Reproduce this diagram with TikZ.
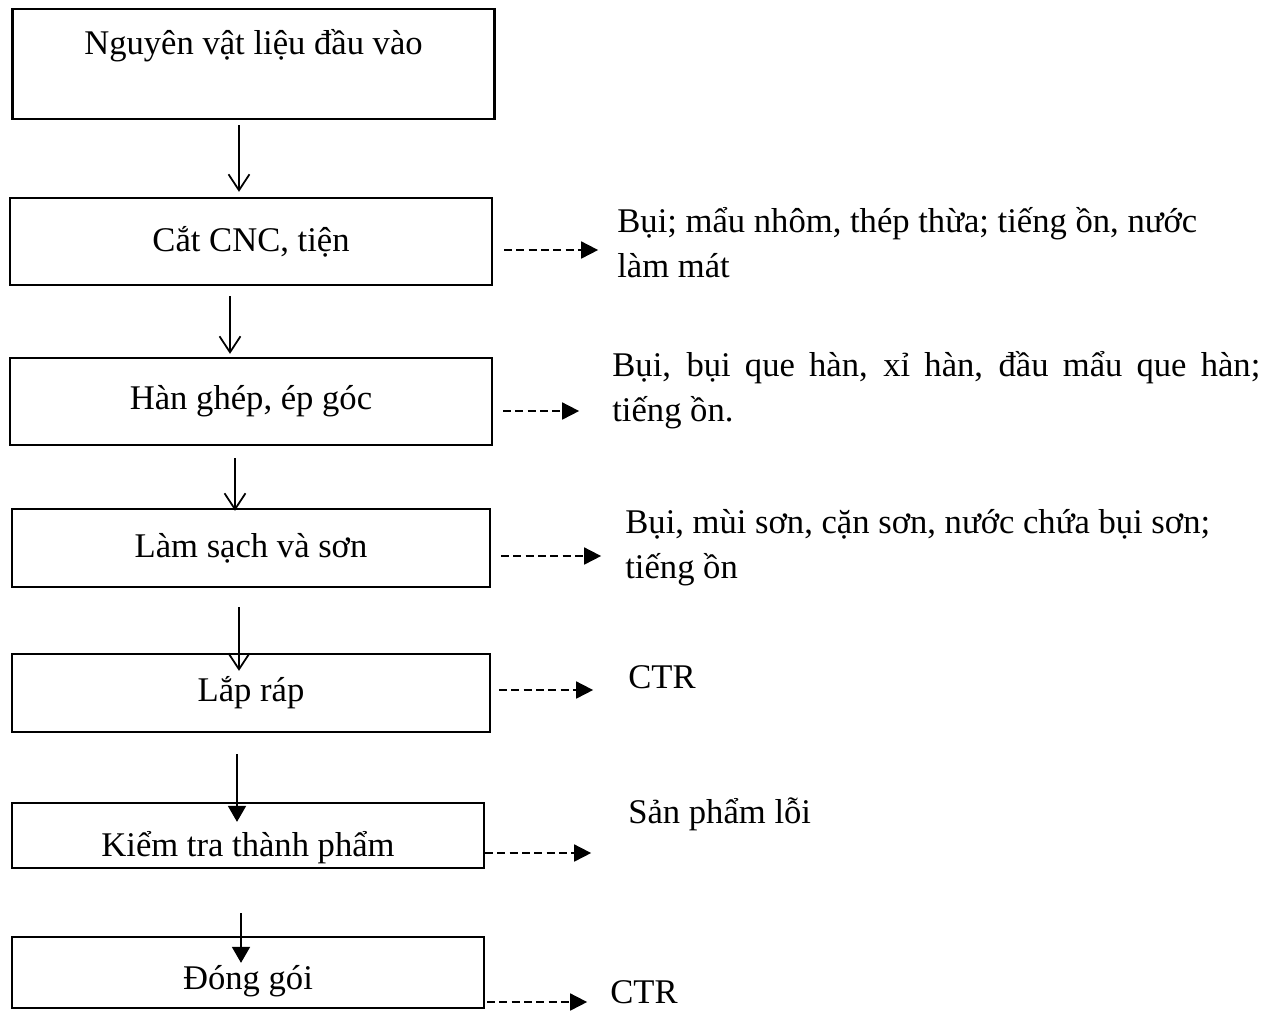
\documentclass[tikz,border=0pt]{standalone}
\usepackage{fontspec}
\setmainfont{Liberation Serif}
\usepackage{tikz}
\usetikzlibrary{arrows.meta}
\usetikzlibrary{positioning}
\tikzstyle{stepbox}=[draw,rectangle,line width=1.3pt,align=center]
\tikzstyle{outtext}=[anchor=west,inner sep=0pt,align=left]
\tikzstyle{flow}=[line width=1pt,-{Straight Barb[length=0.32cm,width=0.42cm]}]
\tikzstyle{flowb}=[line width=1pt,-{Triangle[length=0.32cm,width=0.36cm]}]
\tikzstyle{waste}=[line width=1pt,dash pattern=on 4.5pt off 2.5pt,
-{Triangle[length=0.34cm,width=0.34cm]}]

\begin{document}
\begin{tikzpicture}[font=\fontsize{19.7}{25.6}\selectfont]
\useasboundingbox (0,0) rectangle (25.48,-20.22);

	\node[stepbox, minimum width=9.64cm, minimum height=2.2cm] (raw) at (5.07,-1.28) {};
	\node (rawtext) at (5.07,-0.92) {Nguyên vật liệu đầu vào};
	\node[stepbox, minimum width=9.64cm, minimum height=1.74cm] (cnc) at (5.02,-4.83) {Cắt CNC, tiện};
	\node[stepbox, minimum width=9.64cm, minimum height=1.74cm] (weld) at (5.02,-8.03) {Hàn ghép, ép góc};
	\node[stepbox, minimum width=9.56cm, minimum height=1.56cm] (paint) at (5.02,-10.96) {Làm sạch và sơn};
	\node[stepbox, minimum width=9.56cm, minimum height=1.56cm] (assy) at (5.02,-13.86) {Lắp ráp};
	\node[stepbox, minimum width=9.44cm, minimum height=1.3cm, text height=0.9cm, text depth=0.05cm] (check) at (4.96,-16.71) {Kiểm tra thành phẩm};
	\node[stepbox, minimum width=9.44cm, minimum height=1.42cm, text height=0.84cm, text depth=0.15cm] (pack) at (4.96,-19.45) {Đóng gói};

	\draw[flow] ([xshift=-0.29cm,yshift=-0.10cm]raw.south) -- ([xshift=-0.24cm,yshift=0.10cm]cnc.north);
	\draw[flow] ([xshift=-0.42cm,yshift=-0.20cm]cnc.south) -- ([xshift=-0.42cm,yshift=0.06cm]weld.north);
	\draw[flow] ([xshift=-0.32cm,yshift=-0.24cm]weld.south) -- ([xshift=-0.32cm,yshift=-0.06cm]paint.north);
	\draw[flow] ([xshift=-0.24cm,yshift=-0.38cm]paint.south) -- ([xshift=-0.24cm,yshift=-0.36cm]assy.north);
	\draw[flowb] ([xshift=-0.28cm,yshift=-0.42cm]assy.south) -- ([xshift=-0.22cm,yshift=-0.40cm]check.north);
	\draw[flowb] ([xshift=-0.14cm,yshift=-0.88cm]check.south) -- ([xshift=-0.14cm,yshift=-0.54cm]pack.north);

% % % waste outputs
	\node[outtext] (cncout) at (12.34,-4.86) {Bụi; mẩu nhôm, thép thừa; tiếng ồn, nước\\làm mát};
	\node[outtext] (weldout) at (12.24,-7.80) {\makebox[12.96cm][s]{Bụi, bụi que hàn, xỉ hàn, đầu mẩu que hàn;}\\tiếng ồn.};
	\node[outtext] (paintout) at (12.50,-10.96) {Bụi, mùi sơn, cặn sơn, nước chứa bụi sơn;\\tiếng ồn};
	\node[outtext] (assyout) at (12.56,-13.54) {CTR};
	\node[outtext] (checkout) at (12.56,-16.28) {Sản phẩm lỗi};
	\node[outtext] (packout) at (12.20,-19.84) {CTR};

	\draw[waste] (cnc.east) ++(0.22,-0.17) -- ++(1.88,0);
	\draw[waste] (weld.east) ++(0.20,-0.19) -- ++(1.52,0);
	\draw[waste] (paint.east) ++(0.20,-0.16) -- ++(2.00,0);
	\draw[waste] (assy.east) ++(0.16,0.06) -- ++(1.88,0);
	\draw[waste] (check.east) ++(0,-0.35) -- ++(2.12,0);
	\draw[waste] (pack.east) ++(0.04,-0.59) -- ++(2.00,0);
\end{tikzpicture}
\end{document}
